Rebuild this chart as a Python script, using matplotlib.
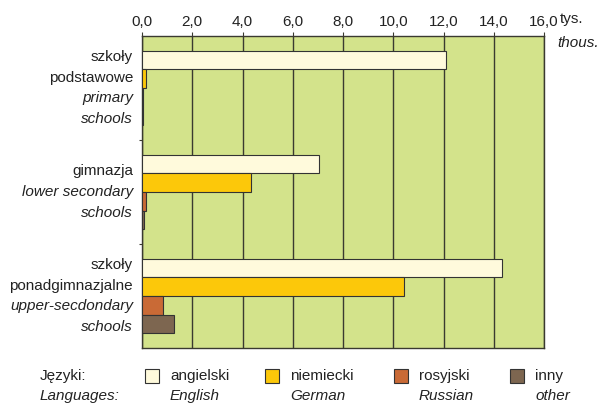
import matplotlib.pyplot as plt
import numpy as np

# values in thousands of pupils
groups_pl = [["szkoły", "podstawowe"], ["gimnazja"], ["szkoły", "ponadgimnazjalne"]]
groups_en = [["primary", "schools"], ["lower secondary", "schools"], ["upper-secdondary", "schools"]]
languages_pl = ["angielski", "niemiecki", "rosyjski", "inny"]
languages_en = ["English", "German", "Russian", "other"]
english = [12.08, 7.05, 14.33]
german = [0.15, 4.34, 10.42]
russian = [0.02, 0.14, 0.85]
other = [0.02, 0.08, 1.29]
xticks = [0, 2, 4, 6, 8, 10, 12, 14, 16]

colors = ["#fffadc", "#fcc80a", "#c96a36", "#7d6650"]
BG = "#d3e38b"
LINE = "#3a3a30"
TXT = "#222222"

plt.rcParams["font.family"] = ["Liberation Sans", "DejaVu Sans"]
plt.rcParams["font.size"] = 11

fig = plt.figure(figsize=(6, 4.05), dpi=100)
ax = fig.add_axes([142 / 600, 1 - 348 / 405, 402 / 600, 312 / 405])
ax.set_facecolor(BG)

h = 0.179
y = np.arange(len(english))
series = [english, german, russian, other]
for k, vals in enumerate(series):
    ax.barh(y + (k - 1.5) * h, vals, height=h, color=colors[k],
            edgecolor="#333333", linewidth=0.8, zorder=3)

ax.set_xlim(0, 16)
ax.set_ylim(2.5, -0.5)
ax.set_xticks(xticks)
ax.set_xticklabels([f"{v:.1f}".replace(".", ",") for v in xticks], color=TXT)
ax.xaxis.tick_top()
ax.tick_params(axis="x", length=3, width=0.8, color=LINE, pad=2)
ax.set_yticks([0.5, 1.5])
ax.set_yticklabels([])
ax.tick_params(axis="y", length=2, width=0.8, color=LINE)
ax.grid(axis="x", color=LINE, linewidth=1.0, zorder=1)
for s in ax.spines.values():
    s.set_color(LINE)
    s.set_linewidth(1.0)

fig.text(560 / 600, 1 - 19 / 405, "tys.", ha="left", va="center", color=TXT)
fig.text(599 / 600, 1 - 43 / 405, "thous.", ha="right", va="center",
         style="italic", color=TXT)

# category labels
line_h = 0.2
for i in range(len(english)):
    lines = [(t, "normal") for t in groups_pl[i]] + [(t, "italic") for t in groups_en[i]]
    n = len(lines)
    for j, (t, st) in enumerate(lines):
        yy = i + (j - (n - 1) / 2) * line_h
        ax.text(-0.022, yy, t, transform=ax.get_yaxis_transform(), ha="right",
                va="center", style=st, color=TXT)

# legend
fig.text(40 / 600, 1 - 376 / 405, "Języki:", ha="left", va="center", color=TXT)
fig.text(40 / 600, 1 - 396 / 405, "Languages:", ha="left", va="center",
         style="italic", color=TXT)
sq_x = [145, 265, 394, 510]
for k in range(4):
    fig.patches.append(plt.Rectangle((sq_x[k] / 600, 1 - 383 / 405), 14 / 600, 14 / 405,
                                     transform=fig.transFigure, facecolor=colors[k],
                                     edgecolor="#333333", linewidth=0.8))
    fig.text((sq_x[k] + 25) / 600, 1 - 376 / 405, languages_pl[k], ha="left",
             va="center", color=TXT)
    fig.text((sq_x[k] + 25) / 600, 1 - 396 / 405, languages_en[k], ha="left",
             va="center", style="italic", color=TXT)

fig.savefig("out.png", dpi=100)
